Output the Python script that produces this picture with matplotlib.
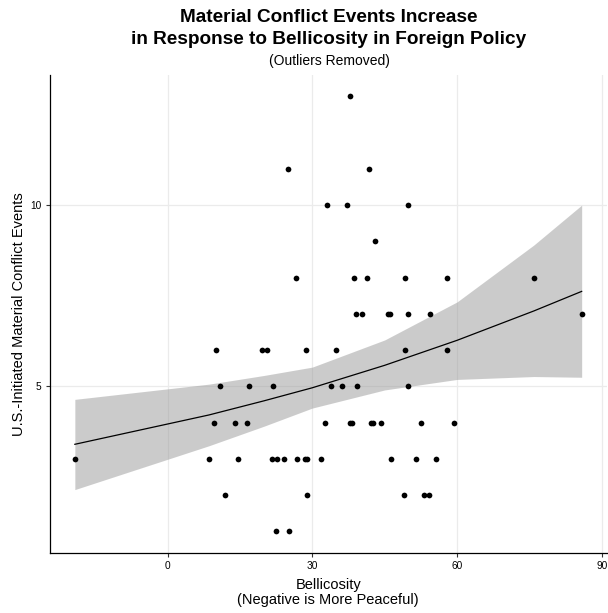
import matplotlib
matplotlib.use("Agg")
import matplotlib.pyplot as plt
import numpy as np

# Bellicosity score and count of U.S.-initiated material conflict events
BELL = [
    22.4, 25.1,
    11.9, 28.8, 48.9, 53.1, 54.2,
    -19.2, 8.6, 14.6, 21.7, 22.6, 24.2, 26.9, 28.4, 28.9, 31.9, 46.2, 51.5, 55.6,
    9.6, 14.0, 16.5, 32.6, 37.9, 38.3, 42.1, 42.6, 44.2, 52.5, 59.4,
    10.9, 16.9, 21.8, 33.9, 36.2, 39.3, 49.8,
    10.0, 19.5, 20.6, 28.6, 34.9, 49.1, 57.9,
    39.0, 40.2, 45.6, 46.1, 49.8, 54.4, 85.8,
    26.6, 38.6, 41.3, 49.1, 57.8, 75.9,
    42.9,
    33.1, 37.1, 49.8,
    24.9, 41.8,
    37.9,
]
EVENTS = (
    [1] * 2 + [2] * 5 + [3] * 13 + [4] * 11 + [5] * 7 + [6] * 7 + [7] * 7
    + [8] * 6 + [9] * 1 + [10] * 3 + [11] * 2 + [13] * 1
)

# fitted poisson curve and its confidence band
FIT_X = [-19.2, 8.6, 20, 30, 45, 60, 75.9, 85.8]
FIT_Y = [3.40, 4.21, 4.60, 4.96, 5.58, 6.27, 7.08, 7.62]
FIT_LO = [2.15, 3.36, 3.90, 4.40, 4.90, 5.19, 5.27, 5.25]
FIT_HI = [4.64, 5.06, 5.30, 5.53, 6.28, 7.33, 8.90, 10.0]

X_TICKS = [0, 30, 60, 90]
Y_TICKS = [5, 10]

TITLE_1 = "Material Conflict Events Increase"
TITLE_2 = "in Response to Bellicosity in Foreign Policy"
SUBTITLE = "(Outliers Removed)"

GRID = "#EBEBEB"

plt.rcParams.update({
    "font.family": ["Liberation Sans", "DejaVu Sans"],
    "axes.linewidth": 0.9,
})

fig = plt.figure(figsize=(6.08, 6.13), dpi=100)
ax = fig.add_axes([49.5 / 608, 1 - 553 / 613, (607 - 49.5) / 608, (553 - 74.7) / 613])

ax.set_axisbelow(True)
ax.grid(True, color=GRID, lw=0.9)
ax.fill_between(FIT_X, FIT_LO, FIT_HI, color="#999999", alpha=0.5, lw=0, zorder=2)
ax.plot(FIT_X, FIT_Y, color="black", lw=0.9, zorder=3)
ax.scatter(BELL, EVENTS, s=17, color="black", lw=0, zorder=4)

ax.set_xlim(-24.45, 91.05)
ax.set_ylim(0.4, 13.6)
ax.set_xticks(X_TICKS)
ax.set_yticks(Y_TICKS)
for s in ("top", "right"):
    ax.spines[s].set_visible(False)
ax.tick_params(length=3, width=0.8, labelsize=7.3, color="#333333", pad=3)

ax.set_xlabel("Bellicosity\n(Negative is More Peaceful)", fontsize=10.5,
              linespacing=1.05, labelpad=5)
ax.set_ylabel("U.S.-Initiated Material Conflict Events", fontsize=10.5, labelpad=3)

fig.text(329 / 608, 1 - 18 / 613, TITLE_1, ha="center", va="center",
         fontsize=13.7, fontweight="bold")
fig.text(329 / 608, 1 - 40 / 613, TITLE_2, ha="center", va="center",
         fontsize=13.7, fontweight="bold")
fig.text(329 / 608, 1 - 61 / 613, SUBTITLE, ha="center", va="center",
         fontsize=10)

fig.savefig("out.png", dpi=100)
